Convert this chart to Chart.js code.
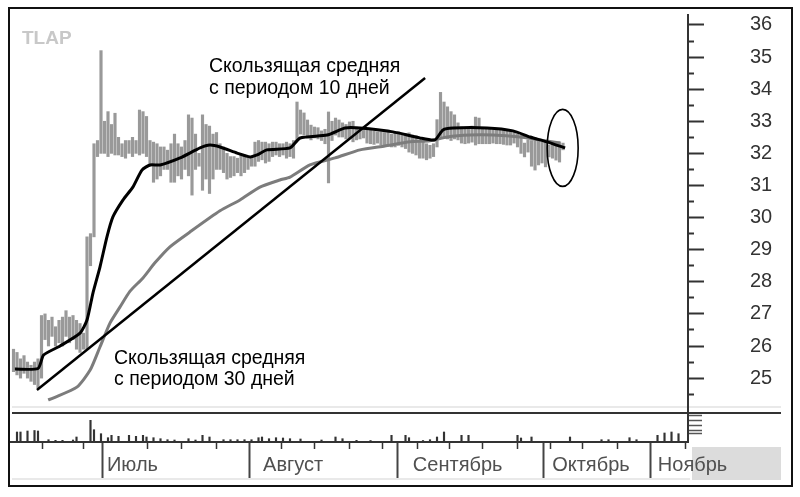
<!DOCTYPE html>
<html><head><meta charset="utf-8">
<script src="https://cdn.jsdelivr.net/npm/chart.js@4.4.0/dist/chart.umd.min.js"></script>
<style>html,body{margin:0;padding:0;background:#fff}canvas{display:block}</style>
</head><body>
<canvas id="c" width="800" height="497"></canvas>
<script>
// ---- data (bar index = trading day position) ----
const barHigh = [25.9,25.8,25.6,25.7,25.5,25.4,25.5,25.6,26.95,27.0,26.8,26.9,26.6,26.8,26.9,27.1,26.9,26.95,26.8,26.7,
26.4,29.4,29.5,32.3,32.4,35.2,33.0,33.3,32.9,33.25,32.5,32.3,32.4,32.4,32.5,32.4,33.35,33.3,33.15,32.4,
32.35,32.3,32.2,32.2,32.1,32.3,32.6,32.3,32.2,32.4,33.2,33.1,32.6,32.0,33.2,32.9,32.85,32.6,32.65,32.3,
32.2,32.0,31.9,31.9,31.85,31.95,31.95,31.9,31.85,32.35,32.4,32.35,32.35,32.3,32.35,32.35,32.3,32.3,32.35,32.3,
32.4,33.6,33.35,33.26,33.04,32.88,32.82,32.8,32.7,32.75,33.29,33.0,33.1,33.04,32.95,32.9,32.98,33.0,32.82,32.75,
32.79,32.73,32.73,32.7,32.67,32.67,32.65,32.73,32.6,32.64,32.67,32.6,32.62,32.64,32.57,32.55,32.4,32.35,32.3,32.25,
32.3,33.05,33.9,33.6,33.45,33.3,33.2,32.95,32.82,32.8,32.79,32.85,33.13,33.1,32.8,32.75,32.75,32.73,32.73,32.73,
32.73,32.73,32.73,32.67,32.6,32.57,32.32,32.42,32.4,32.48,32.42,32.35,32.36,32.26,32.3,32.36,32.36,32.32];
const barLow = [25.2,25.1,25.0,25.15,25.0,24.9,24.8,24.7,25.0,26.2,26.0,26.3,26.0,26.1,26.0,26.3,26.1,26.2,25.9,25.8,
25.9,25.9,28.5,29.4,31.9,32.0,32.0,31.9,32.0,31.95,31.95,31.9,31.85,32.0,31.9,32.0,31.95,32.0,31.9,31.6,
31.1,31.2,31.3,31.5,31.5,31.1,31.1,31.3,31.2,31.5,31.3,30.7,31.5,31.6,30.85,31.2,30.75,31.2,31.5,31.5,
31.4,31.2,31.25,31.3,31.4,31.3,31.4,31.5,31.6,31.6,31.75,31.8,31.7,31.75,31.9,31.95,31.9,31.95,31.85,31.9,
31.85,32.4,32.6,32.57,32.48,32.42,32.48,32.45,32.4,32.3,31.08,32.4,32.57,32.51,32.51,32.45,32.48,32.36,32.42,32.45,
32.48,32.32,32.3,32.28,32.32,32.26,32.25,32.26,32.2,32.2,32.25,32.2,32.15,32.04,32.0,31.95,31.85,31.85,31.8,31.85,
31.9,32.2,32.5,32.5,32.45,32.4,32.45,32.42,32.32,32.3,32.32,32.35,32.26,32.3,32.3,32.3,32.3,32.32,32.3,32.3,
32.28,32.26,32.26,32.32,32.2,32.0,31.89,32.04,31.6,31.48,31.64,31.7,31.58,31.89,31.85,31.79,31.73,32.11];
const barIndex = barHigh.map((_, i) => i + 1);

const ma10X = [1.4,8,9.6,14.3,20,22,23.7,25.7,27.7,29.4,32.3,35.1,37.7,40,42.9,48.6,54.3,57.1,60,64.9,68.6,70.6,73.4,80,82.9,90.6,95.7,100,109.4,117.1,121.4,123.7,126.6,136.3,143.7,148.6,153.4,158.6];
const ma10Y = [25.28,25.3,25.72,26.0,26.4,26.81,27.65,28.46,29.4,30.02,30.55,30.95,31.48,31.64,31.64,31.86,32.17,32.26,32.2,32.01,31.89,31.95,32.11,32.17,32.48,32.57,32.79,32.79,32.67,32.48,32.42,32.73,32.79,32.79,32.7,32.51,32.36,32.17];

const ma30X = [10.9,12.3,19.1,22.9,25.7,28.6,31.4,34.3,38,41.4,45.7,51.4,60,65.7,71.4,77.1,80,85.7,92.9,100,107.1,114.3,120,124.9,131.4,138,145.7,151.4,157.1];
const ma30Y = [24.32,24.38,24.72,25.25,25.97,26.72,27.21,27.71,28.12,28.59,29.09,29.55,30.21,30.55,30.95,31.17,31.26,31.64,31.86,32.11,32.23,32.36,32.39,32.51,32.57,32.57,32.51,32.42,32.32];

const trendX = [7.7, 118.6];
const trendY = [24.63, 34.35];

const volX = [2,3,5,7,8,11,13,15,18,19,23,24,26,28,29,31,34,36,38,39,41,43,45,47,51,53,55,57,61,63,65,67,69,71,72,74,76,78,80,83,89,93,95,99,103,109,113,114,118,120,122,124,129,131,145,146,149,160,169,171,177,179,185,187,189,191];
const volY = [10,10,11,11.5,11,2.3,1.7,1.7,2,5,21.7,12.3,8.3,4.3,6.7,5.7,6.7,5.7,6.7,5,4.3,3.3,2.3,2,3.3,2,6.7,5,2.3,2.3,2.3,2.3,2.3,4.3,5,3.3,4.3,4,3.3,3,2,5,3.3,1.7,1.5,6.7,6.7,4.3,1.5,2.3,5,10,6.7,6.7,6.7,4,5,5,2.3,2.3,4.3,2.3,6.7,9,10,8.3];

const monthNames = ['Июль','Август','Сентябрь','Октябрь','Ноябрь'];
const monthStart = [26.3, 68.3, 110.6, 152.3, 182.9];
const monthLabelAt = [27.7, 72.3, 115.1, 154.9, 185.1];
const weekMarks = [9.4,20.9,39.4,49.1,59.1,77.7,87.1,97.1,106.3,116.3,125.7,134.9,144.9,154.3,163.7,173.7,192.9];
const priceTicks = [25,26,27,28,29,30,31,32,33,34,35,36];
const priceMinor = [24.5,25.5,26.5,27.5,28.5,29.5,30.5,31.5,32.5,33.5,34.5,35.5];
const volTicks = [9,12,17,22,27];

const ellipseAt = {x: 157.9, y: 32.17};

// ---- chart ----
const FONT = "'Liberation Sans', Arial, sans-serif";
const X_MIN = 0, X_MAX = 193.71, Y_MIN = 23.01, Y_MAX = 36.31;
const noPad = s => { s.paddingTop = 0; s.paddingBottom = 0; s.paddingLeft = 0; s.paddingRight = 0; };

const deco = {
  id: 'deco',
  beforeDraw(chart) {
    const c = chart.ctx;
    c.save();
    c.fillStyle = '#fff';
    c.fillRect(0, 0, chart.width, chart.height);
    c.fillStyle = '#dcdcdc';
    c.fillRect(692, 447, 89, 33);
    c.strokeStyle = '#e2e2e2';
    c.lineWidth = 1.5;
    c.beginPath(); c.moveTo(12, 407); c.lineTo(781, 407); c.stroke();
    c.beginPath(); c.moveTo(12, 479); c.lineTo(690, 479); c.stroke();
    c.restore();
  },
  afterDraw(chart) {
    const c = chart.ctx;
    const xs = chart.scales.x, ys = chart.scales.y;
    c.save();
    c.strokeStyle = '#333';
    c.lineWidth = 2;
    c.beginPath(); c.moveTo(12, 413); c.lineTo(781, 413); c.stroke();
    c.strokeStyle = '#111';
    c.lineWidth = 2;
    c.strokeRect(9, 8, 783, 478);
    c.fillStyle = '#c8c8c8';
    c.font = "bold 19px " + FONT;
    c.textBaseline = 'alphabetic';
    c.fillText('TLAP', 22, 44);
    c.fillStyle = '#000';
    c.font = "19.5px " + FONT;
    c.fillText('Скользящая средняя', 209, 72);
    c.fillText('с периодом 10 дней', 209, 93.5);
    c.fillText('Скользящая средняя', 114, 364);
    c.fillText('с периодом 30 дней', 114, 384.5);
    c.strokeStyle = '#000';
    c.lineWidth = 1.6;
    c.beginPath();
    c.ellipse(xs.getPixelForValue(ellipseAt.x), ys.getPixelForValue(ellipseAt.y), 15.5, 38.5, 0, 0, Math.PI * 2);
    c.stroke();
    c.restore();
  }
};

new Chart(document.getElementById('c'), {
  type: 'line',
  data: {
    datasets: [
      { type: 'line', label: 'trend', data: trendX.map((x, i) => ({x, y: trendY[i]})),
        borderColor: '#000', borderWidth: 2.5, pointRadius: 0, order: 1, xAxisID: 'x', yAxisID: 'y' },
      { type: 'line', label: 'MA10', data: ma10X.map((x, i) => ({x, y: ma10Y[i]})),
        borderColor: '#000', borderWidth: 3, pointRadius: 0, tension: 0.2, order: 2, xAxisID: 'x', yAxisID: 'y' },
      { type: 'line', label: 'MA30', data: ma30X.map((x, i) => ({x, y: ma30Y[i]})),
        borderColor: '#7c7c7c', borderWidth: 3, pointRadius: 0, tension: 0.2, order: 3, xAxisID: 'x', yAxisID: 'y' },
      { type: 'bar', label: 'price', data: barIndex.map((x, i) => ({x, y: [barLow[i], barHigh[i]]})),
        backgroundColor: '#999999', barThickness: 2.5, grouped: false, order: 5, xAxisID: 'x', yAxisID: 'y' },
      { type: 'bar', label: 'volume', data: volX.map((x, i) => ({x, y: volY[i]})),
        backgroundColor: '#333', barThickness: 1.5, grouped: false, order: 6, xAxisID: 'x', yAxisID: 'yv' }
    ]
  },
  options: {
    responsive: false,
    animation: false,
    devicePixelRatio: 1,
    events: [],
    layout: { padding: { left: 10, top: 15, right: 0, bottom: 0 } },
    plugins: { legend: { display: false }, tooltip: { enabled: false } },
    scales: {
      x: {
        type: 'linear', position: 'bottom', min: X_MIN, max: X_MAX, offset: false, weight: 2,
        afterBuildTicks: s => { s.ticks = monthLabelAt.map(v => ({value: v})); },
        ticks: { align: 'start', padding: 11, maxRotation: 0, minRotation: 0, autoSkip: false,
          color: '#505050', font: { family: FONT, size: 20 },
          callback: (v, i) => monthNames[i] },
        grid: { display: false, drawTicks: false, offset: false },
        border: { display: true, color: '#333', width: 2 },
        afterFit: s => { s.height = 55; noPad(s); }
      },
      x2: {
        type: 'linear', position: 'bottom', min: X_MIN, max: X_MAX, offset: false, weight: 0,
        afterBuildTicks: s => { s.ticks = monthStart.map(v => ({value: v})); },
        ticks: { display: false },
        grid: { drawOnChartArea: false, tickLength: 36, tickColor: '#444', tickWidth: 2, offset: false },
        border: { display: false },
        afterFit: s => { s.height = 0; noPad(s); }
      },
      x3: {
        type: 'linear', position: 'bottom', min: X_MIN, max: X_MAX, offset: false, weight: 1,
        afterBuildTicks: s => { s.ticks = weekMarks.map(v => ({value: v})); },
        ticks: { display: false },
        grid: { drawOnChartArea: false, tickLength: 7, tickColor: '#333', tickWidth: 1.5, offset: false },
        border: { display: false },
        afterFit: s => { s.height = 0; noPad(s); }
      },
      y: {
        type: 'linear', position: 'right', min: Y_MIN, max: Y_MAX, weight: 3,
        afterBuildTicks: s => { s.ticks = priceTicks.map(v => ({value: v})); },
        ticks: { color: '#333', padding: 46, font: { family: FONT, size: 20 } },
        grid: { drawOnChartArea: false, tickLength: 16, tickColor: '#333', tickWidth: 2 },
        border: { display: true, color: '#333', width: 2 },
        afterFit: s => { s.width = 112; noPad(s); }
      },
      yMinor: {
        type: 'linear', position: 'right', min: Y_MIN, max: Y_MAX, weight: 0,
        afterBuildTicks: s => { s.ticks = priceMinor.map(v => ({value: v})); },
        ticks: { display: false },
        grid: { drawOnChartArea: false, tickLength: 6, tickColor: '#333', tickWidth: 2 },
        border: { display: false },
        afterFit: s => { s.width = 0; noPad(s); }
      },
      yv: {
        type: 'linear', position: 'right', min: 0, max: 427, weight: 1,
        afterBuildTicks: s => { s.ticks = volTicks.map(v => ({value: v})); },
        ticks: { display: false },
        grid: { drawOnChartArea: false, tickLength: 14, tickColor: '#555', tickWidth: 1.5 },
        border: { display: false },
        afterFit: s => { s.width = 0; noPad(s); }
      }
    }
  },
  plugins: [deco]
});
</script>
</body></html>
